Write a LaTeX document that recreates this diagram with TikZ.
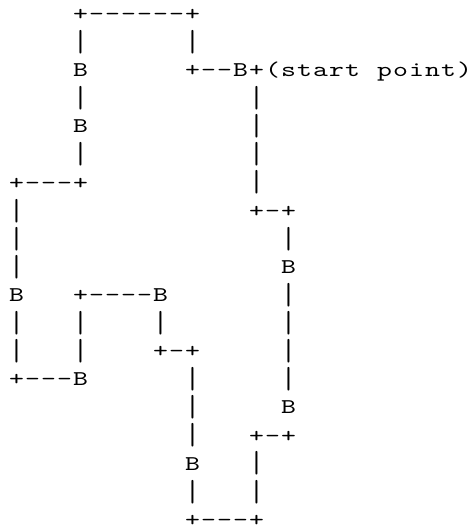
\documentclass[tikz,border=0pt]{standalone}
\usepackage{fontspec}
\newfontfamily\asciifont{lmmono10-regular.otf}[FakeStretch=1.35]
\makeatletter
\newcount\asc@col
% #1 = row number, #2 = row text, '.' stands for an empty cell
\newcommand\asciirow[2]{%
  \asc@col=0
  \@tfor\asc@ch:=#2\do{%
    \if\asc@ch.\else
      \if\asc@ch|%
        \node[vbar] (c#1-\the\asc@col) at ({16.5pt+\the\asc@col*16pt},{-(14pt+#1*28.1pt)}) {\scalebox{1}[1.45]{|}};%
      \else
        \node[glyph] (c#1-\the\asc@col) at ({16.5pt+\the\asc@col*16pt},{-(20.5pt+#1*28.1pt)}) {\asc@ch};%
      \fi
    \fi
    \advance\asc@col by 1\relax}}
\makeatother
\tikzset{
  glyph/.style={font={\asciifont\fontsize{21}{24}\selectfont}, inner sep=0pt, anchor=base, text=black},
  vbar/.style={glyph, anchor=center}}
\begin{document}
\begin{tikzpicture}
\useasboundingbox (0,0) rectangle (472pt,-527pt);
\asciirow{0}{....+------+}
\asciirow{1}{....|......|}
\asciirow{2}{....B......+--B+(start.point)}
\asciirow{3}{....|..........|}
\asciirow{4}{....B..........|}
\asciirow{5}{....|..........|}
\asciirow{6}{+---+..........|}
\asciirow{7}{|..............+-+}
\asciirow{8}{|................|}
\asciirow{9}{|................B}
\asciirow{10}{B...+----B.......|}
\asciirow{11}{|...|....|.......|}
\asciirow{12}{|...|....+-+.....|}
\asciirow{13}{+---B......|.....|}
\asciirow{14}{...........|.....B}
\asciirow{15}{...........|...+-+}
\asciirow{16}{...........B...|}
\asciirow{17}{...........|...|}
\asciirow{18}{...........+---+}
\end{tikzpicture}
\end{document}
